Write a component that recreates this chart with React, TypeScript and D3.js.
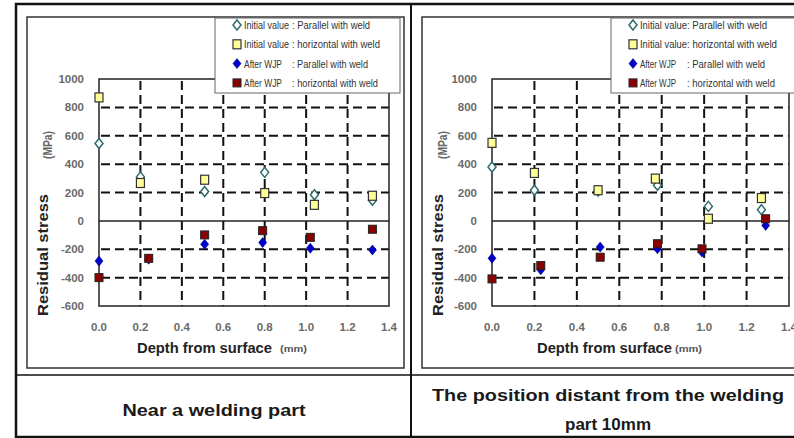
import * as d3 from "d3";

// axis ticks
const depthTicks = [0, 0.2, 0.4, 0.6, 0.8, 1.0, 1.2, 1.4];
const stressTicks = [-600, -400, -200, 0, 200, 400, 600, 800, 1000];
const gridStress = [-400, -200, 200, 400, 600, 800];
const gridDepth = [0.2, 0.4, 0.6, 0.8, 1.0, 1.2];

// legend labels
const legendPrefix = ["Initial value", "Initial value", "After WJP", "After WJP"];
const legendSuffix = [
  ": Parallel with weld",
  ": horizontal with weld",
  ": Parallel with weld",
  ": horizontal with weld",
];

// Near a welding part  [depth mm, stress MPa]
const nearInitParallel = [[0, 545], [0.2, 310], [0.51, 207], [0.8, 342], [1.04, 184], [1.32, 145]];
const nearInitHorizontal = [[0, 870], [0.2, 267], [0.51, 290], [0.8, 196], [1.04, 113], [1.32, 177]];
const nearWjpParallel = [[0, -283], [0.24, -270], [0.51, -165], [0.79, -153], [1.02, -193], [1.32, -205]];
const nearWjpHorizontal = [[0, -400], [0.24, -264], [0.51, -99], [0.79, -69], [1.02, -116], [1.32, -59]];

// 10mm from the welding part
const farInitParallel = [[0, 380], [0.2, 216], [0.5, 210], [0.78, 251], [1.02, 102], [1.27, 79]];
const farInitHorizontal = [[0, 550], [0.2, 338], [0.5, 216], [0.77, 298], [1.02, 15], [1.27, 161]];
const farWjpParallel = [[0, -263], [0.23, -345], [0.51, -185], [0.78, -197], [0.99, -220], [1.29, -32]];
const farWjpHorizontal = [[0, -409], [0.23, -315], [0.51, -256], [0.78, -161], [0.99, -197], [1.29, 15]];

const diamond = "M0,-5L4,0L0,5L-4,0Z";

function Marker({ kind }: { kind: number }) {
  if (kind === 0) return <path d={diamond} fill="#fff" stroke="#2f6b6b" strokeWidth={1.5} />;
  if (kind === 1) return <rect x={-4} y={-4.5} width={8} height={9} fill="#ffff99" stroke="#333" strokeWidth={1.2} />;
  if (kind === 2) return <path d={diamond} fill="#0000cc" stroke="#000080" strokeWidth={0.6} />;
  return <rect x={-4} y={-4} width={8} height={8} fill="#8b0000" stroke="#222" strokeWidth={1} />;
}

type PanelProps = {
  frame: [number, number, number, number];
  plotX: [number, number];
  plotY: [number, number];
  series: number[][][];
  legendX: number;
  legendW: number;
  prefixW: number[];
  suffixX: number;
  suffixW: number[];
  titleX: number;
  mmX: number;
  ylabX: number;
};

function Panel(p: PanelProps) {
  const x = d3.scaleLinear().domain([0, 1.4]).range(p.plotX);
  const y = d3.scaleLinear().domain([-600, 1000]).range(p.plotY);
  const [fx, fy, fw, fh] = p.frame;
  const font = "'Liberation Sans', Arial, sans-serif";
  return (
    <g>
      <rect x={fx} y={fy} width={fw} height={fh} fill="#fff" stroke="#333" strokeWidth={1.5} />
      {/* grid */}
      {gridStress.map((v) => (
        <line key={"h" + v} x1={p.plotX[0]} x2={p.plotX[1]} y1={y(v)} y2={y(v)}
          stroke="#111" strokeWidth={2} strokeDasharray="9,5" strokeDashoffset={-2} />
      ))}
      {gridDepth.map((v) => (
        <line key={"v" + v} x1={x(v)} x2={x(v)} y1={p.plotY[1]} y2={p.plotY[0]}
          stroke="#111" strokeWidth={2} strokeDasharray="9,5" strokeDashoffset={-2} />
      ))}
      <line x1={p.plotX[0]} x2={p.plotX[1]} y1={y(0)} y2={y(0)} stroke="#222" strokeWidth={1.5} />
      <rect x={p.plotX[0]} y={p.plotY[1]} width={p.plotX[1] - p.plotX[0]} height={p.plotY[0] - p.plotY[1]}
        fill="none" stroke="#222" strokeWidth={1.5} />
      {/* tick labels */}
      {stressTicks.map((v) => (
        <text key={"yt" + v} x={p.plotX[0] - 15} y={y(v) + 4} textAnchor="end" fontFamily={font}
          fontSize={11.5} fontWeight="bold" fill="#6a6a6a">{v}</text>
      ))}
      {depthTicks.map((v) => (
        <text key={"xt" + v} x={x(v)} y={331} textAnchor="middle" fontFamily={font}
          fontSize={11.5} fontWeight="bold" fill="#6a6a6a">{v.toFixed(1)}</text>
      ))}
      {/* axis titles */}
      <text x={p.titleX} y={353} fontFamily={font} fontSize={14} fontWeight="bold" fill="#222"
        textLength={135} lengthAdjust="spacingAndGlyphs">Depth from surface</text>
      <text x={p.mmX} y={352} fontFamily={font} fontSize={9} fontWeight="bold" fill="#555"
        textLength={27} lengthAdjust="spacingAndGlyphs">(mm)</text>
      <text transform={`translate(${p.ylabX},316) rotate(-90)`} fontFamily={font} fontSize={14}
        fontWeight="bold" fill="#222" textLength={122} lengthAdjust="spacingAndGlyphs">Residual stress</text>
      <text transform={`translate(${p.ylabX + 4},159) rotate(-90)`} fontFamily={font} fontSize={12}
        fontWeight="bold" fill="#666" textLength={28} lengthAdjust="spacingAndGlyphs">(MPa)</text>
      {/* points */}
      {p.series.map((s, k) => (
        <g key={"s" + k}>
          {s.map((d, i) => (
            <g key={i} transform={`translate(${x(d[0])},${y(d[1])})`}>
              <Marker kind={k} />
            </g>
          ))}
        </g>
      ))}
      {/* legend */}
      <rect x={p.legendX} y={18} width={p.legendW} height={75} fill="#fff" stroke="#666" strokeWidth={1} />
      {legendPrefix.map((t, k) => {
        const ly = 25 + k * 19.3;
        return (
          <g key={"l" + k}>
            <g transform={`translate(${p.legendX + 22},${ly})`}><Marker kind={k} /></g>
            <text x={p.legendX + 29} y={ly + 4} fontFamily={font} fontSize={10} fill="#333"
              textLength={p.prefixW[k]} lengthAdjust="spacingAndGlyphs">{t}</text>
            <text x={p.suffixX} y={ly + 4} fontFamily={font} fontSize={10} fill="#333"
              textLength={p.suffixW[k]} lengthAdjust="spacingAndGlyphs">{legendSuffix[k]}</text>
          </g>
        );
      })}
    </g>
  );
}

export default function App() {
  const font = "'Liberation Sans', Arial, sans-serif";
  return (
    <div style={{ position: "absolute", left: 0, top: 0, width: 794, height: 438, background: "#fff" }}>
      <svg width={794} height={438} style={{ display: "block" }}>
        <rect width={794} height={438} fill="#fff" />
        <Panel
          frame={[27, 17, 377, 351]}
          plotX={[99, 389]}
          plotY={[306, 79]}
          series={[nearInitParallel, nearInitHorizontal, nearWjpParallel, nearWjpHorizontal]}
          legendX={215}
          legendW={185}
          prefixW={[45, 45, 38, 38]}
          suffixX={292}
          suffixW={[78, 88, 76, 86]}
          titleX={137}
          mmX={280}
          ylabX={48}
        />
        <Panel
          frame={[422, 17, 390, 351]}
          plotX={[492, 789]}
          plotY={[306, 79]}
          series={[farInitParallel, farInitHorizontal, farWjpParallel, farWjpHorizontal]}
          legendX={611}
          legendW={200}
          prefixW={[47, 47, 36, 36]}
          suffixX={687}
          suffixW={[80, 90, 78, 88]}
          titleX={537}
          mmX={675}
          ylabX={443}
        />
        {/* table lines */}
        <rect x={16} y={4} width={800} height={433} fill="none" stroke="#111" strokeWidth={2.5} />
        <line x1={411} x2={411} y1={4} y2={437} stroke="#111" strokeWidth={2} />
        <line x1={16} x2={794} y1={375} y2={375} stroke="#111" strokeWidth={1.5} />
        {/* captions */}
        <text x={214} y={416} textAnchor="middle" fontFamily={font} fontSize={16} fontWeight="bold"
          fill="#1a1a1a" textLength={183} lengthAdjust="spacingAndGlyphs">Near a welding part</text>
        <text x={608} y={401} textAnchor="middle" fontFamily={font} fontSize={16} fontWeight="bold"
          fill="#1a1a1a" textLength={352} lengthAdjust="spacingAndGlyphs">The position distant from the welding</text>
        <text x={608} y={430} textAnchor="middle" fontFamily={font} fontSize={17} fontWeight="bold"
          fill="#1a1a1a" textLength={86} lengthAdjust="spacingAndGlyphs">part 10mm</text>
      </svg>
    </div>
  );
}
